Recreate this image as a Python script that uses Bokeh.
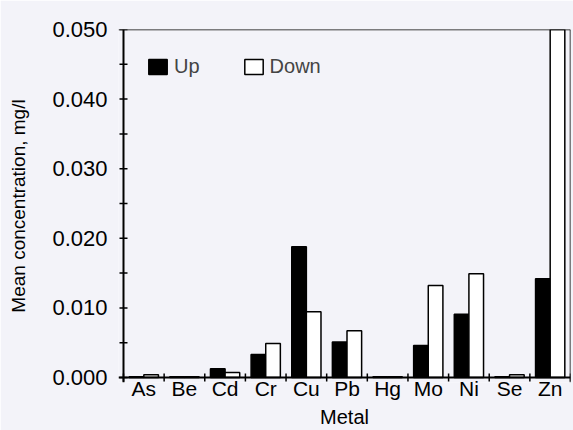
import math
from bokeh.plotting import figure
from bokeh.models import FixedTicker, Range1d, Legend, LegendItem, ColumnDataSource, Span
from bokeh.embed import file_html
from bokeh.resources import INLINE

# Mean metal concentrations (mg/l) upstream and downstream
metals = ["As", "Be", "Cd", "Cr", "Cu", "Pb", "Hg", "Mo", "Ni", "Se", "Zn"]
up = [0.0001, 0.0001, 0.00125, 0.0033, 0.0188, 0.0051, 0.0001, 0.0046, 0.0091, 0.0001, 0.0142]
down = [0.0004, 0.0001, 0.0007, 0.0049, 0.00945, 0.0067, 0.0001, 0.0132, 0.0149, 0.0004, 0.060]
y_ticks = [0.0, 0.01, 0.02, 0.03, 0.04, 0.05]
y_minor_ticks = [0.005, 0.015, 0.025, 0.035, 0.045]
y_tick_labels = ["0.000", "0.010", "0.020", "0.030", "0.040", "0.050"]

FONT = "Liberation Sans"
BG = "#f3f3f9"
BAR_W = 0.36
Y_TOP = 0.05
N = len(metals)
# small margin below/left of the axes so that tick marks crossing them are not clipped
X_PAD = 0.123
Y_PAD = 0.00072

centers = [i + 0.5 for i in range(N)]
boundaries = list(range(N + 1))
src = ColumnDataSource(dict(
    x_up=[c - BAR_W / 2 for c in centers],
    x_down=[c + BAR_W / 2 for c in centers],
    up=up, down=down,
))

p = figure(width=573, height=430, output_backend="svg", toolbar_location=None,
           x_range=Range1d(-X_PAD, N), y_range=Range1d(-Y_PAD, Y_TOP),
           min_border_left=118, min_border_right=3, min_border_top=29, min_border_bottom=48)
p.background_fill_color = BG
p.border_fill_color = BG
p.grid.visible = False
p.outline_line_color = None

r_up = p.vbar(x="x_up", top="up", width=BAR_W, source=src,
              fill_color="black", line_color="black", line_width=1.5)
r_down = p.vbar(x="x_down", top="down", width=BAR_W, source=src,
                fill_color="white", line_color="black", line_width=1.5)

# axis lines and box
p.add_layout(Span(location=0, dimension="height", line_color="black", line_width=2))
p.add_layout(Span(location=0, dimension="width", line_color="black", line_width=2))
p.add_layout(Span(location=Y_TOP, dimension="width", line_color="black", line_width=1.5))
p.add_layout(Span(location=N, dimension="height", line_color="black", line_width=1.5))

# tick marks crossing the axes
p.scatter(x=[0] * (len(y_ticks) + len(y_minor_ticks)), y=y_ticks + y_minor_ticks,
          marker="dash", size=8, line_color="black", line_width=1.5)
p.scatter(x=boundaries, y=[0] * len(boundaries), marker="dash", angle=math.pi / 2,
          size=8, line_color="black", line_width=1.5)

# x axis: category names at the centres
xa = p.xaxis[0]
xa.ticker = FixedTicker(ticks=centers)
xa.major_label_overrides = {c: m for c, m in zip(centers, metals)}
xa.major_tick_in = 0
xa.major_tick_out = 0
xa.major_label_standoff = -6
xa.major_label_text_font_size = "21px"
xa.axis_label = "Metal"
xa.axis_label_standoff = 3
xa.axis_label_text_font_size = "20px"

ya = p.yaxis[0]
ya.ticker = FixedTicker(ticks=y_ticks)
ya.major_label_overrides = {t: l for t, l in zip(y_ticks, y_tick_labels)}
ya.major_tick_in = 0
ya.major_tick_out = 0
ya.major_label_standoff = 11
ya.major_label_text_font_size = "22px"
ya.axis_label = "Mean concentration, mg/l"
ya.axis_label_standoff = 20
ya.axis_label_text_font_size = "19px"

for ax in (xa, ya):
    ax.axis_line_alpha = 0
    ax.major_label_text_font = FONT
    ax.major_label_text_color = "black"
    ax.axis_label_text_font = FONT
    ax.axis_label_text_font_style = "normal"
    ax.axis_label_text_color = "black"

legend = Legend(items=[LegendItem(label="Up", renderers=[r_up]),
                       LegendItem(label="Down", renderers=[r_down])],
                orientation="horizontal", location=(28, 304),
                glyph_width=23, glyph_height=19, label_standoff=5, spacing=42,
                label_text_font=FONT, label_text_font_size="20px",
                background_fill_alpha=0, border_line_alpha=0, padding=0, margin=0)
p.add_layout(legend, "center")

open("out.html", "w").write(file_html(p, INLINE))
